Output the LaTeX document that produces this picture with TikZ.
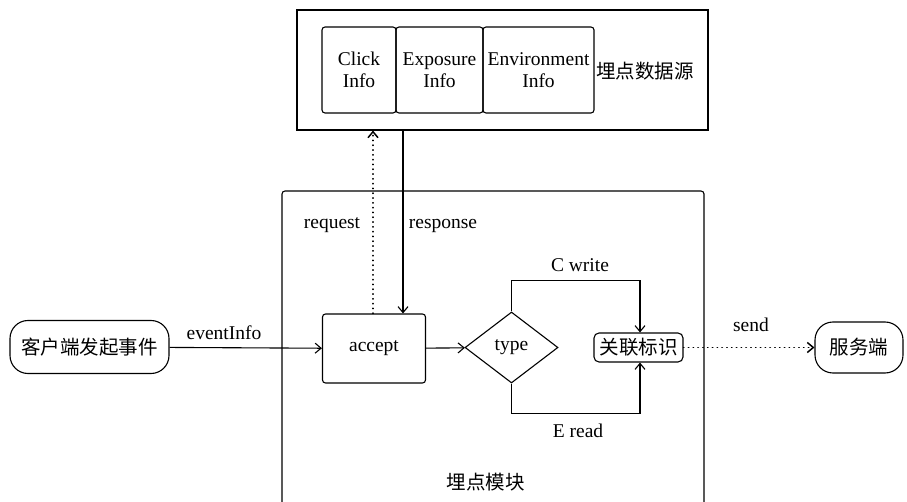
\documentclass[tikz,border=0pt]{standalone}
\usepackage{fontspec}
\setmainfont{Liberation Serif}
\newfontfamily\cjk{Noto Sans CJK SC}
\usetikzlibrary{arrows.meta,shapes.geometric}

\begin{document}
\begin{tikzpicture}[x=1pt,y=-1pt,line width=1.1pt,
  every node/.style={font=\fontsize{19.5}{22}\selectfont, inner sep=0pt},
  infobox/.style={draw, rounded corners=3pt, minimum height=86pt, align=center},
  stepbox/.style={draw, rounded corners=3pt},
  termbox/.style={draw, rounded corners=18pt},
  decision/.style={draw, diamond, minimum width=93pt, minimum height=71pt},
  arr/.style={-{Straight Barb[length=6pt,width=10pt]}},
  dots/.style={line cap=round, dash pattern=on 0.4pt off 4.4pt, line width=1.5pt},
  lbl/.style={anchor=base}]
\useasboundingbox (0,0) rectangle (907,502);
\clip (0,0) rectangle (907,502);

% data source block
\node[draw, minimum width=411pt, minimum height=120pt] (src) at (502.5,70) {};
\node[infobox, minimum width=74pt]  (click) at (359,70)   {Click\\Info};
\node[infobox, minimum width=87pt]  (expo)  at (439.5,70) {Exposure\\Info};
\node[infobox, minimum width=111pt] (env)   at (538.5,70) {Environment\\Info};
\node (srclabel) at (645,71) {\cjk 埋点数据源};

% tracking module
\node[draw, rounded corners=3pt, minimum width=422pt, minimum height=350pt] (mod) at (493,366) {};
\node (modlabel) at (485.5,482) {\cjk 埋点模块};

\node[stepbox, minimum width=103pt, minimum height=69pt] (accept) at (374,348.5) {accept};
\node[decision] (type) at (511.5,347.5) {type};
\node[stepbox, rounded corners=5pt, minimum width=89pt, minimum height=29pt] (rel) at (638.5,347.5) {\cjk 关联标识};

% endpoints
\node[termbox, minimum width=159pt, minimum height=53pt] (client) at (89.5,347) {\cjk 客户端发起事件};
\node[termbox, minimum width=88pt, minimum height=51pt] (server) at (859,347.5) {\cjk 服务端};

% connectors
\draw[arr] (client) -- (accept);
\node[lbl] (lev) at (224,340) {eventInfo};

\draw[arr, dots] ([xshift=-1pt]accept.north) -- ([xshift=-1pt]accept.north |- src.south);
\node[lbl] (lreq) at (332,229) {request};
\draw[arr] ([xshift=29pt]accept.north |- src.south) -- ([xshift=29pt]accept.north);
\node[lbl] (lres) at (443,229) {response};

\draw[arr] (accept) -- (type);

\draw[arr] (type.north) -- ++(0,-31) -| ([xshift=1.5pt]rel.north);
\node[lbl] (lcw) at (580,272) {C write};
\draw[arr] (type.south) -- ++(0,30) -| ([xshift=1.5pt]rel.south);
\node[lbl] (ler) at (578,437) {E read};

\draw[arr, dots] (rel) -- (server);
\node[lbl] (lsend) at (751,332) {send};
\end{tikzpicture}
\end{document}
